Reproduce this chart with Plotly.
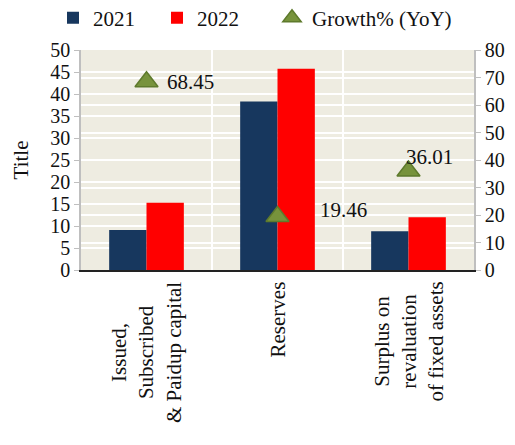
import plotly.graph_objects as go

categories = ["Issued,<br>Subscribed<br>& Paidup capital", "Reserves", "Surplus on<br>revaluation<br>of fixed assets"]
values_2021 = [9.08, 38.3, 8.8]
values_2022 = [15.3, 45.75, 11.97]
growth = [68.45, 19.46, 36.01]
growth_labels = ["68.45", "19.46", "36.01"]

FONT = "Liberation Serif"
FS = 21
fig = go.Figure()
fig.add_trace(go.Bar(name="2021", x=categories, y=values_2021, legend="legend",
                     marker=dict(color="#17375E", line=dict(width=0))))
fig.add_trace(go.Bar(name="2022", x=categories, y=values_2022, legend="legend2",
                     marker=dict(color="#FF0000", line=dict(width=0))))
fig.add_trace(go.Scatter(name="Growth% (YoY)", x=categories, y=growth, yaxis="y2", mode="markers",
                         legend="legend3",
                         marker=dict(symbol="triangle-up", size=20, color="#77933C",
                                     line=dict(color="#5E7A2C", width=1.5))))

shifts = [18, 40, -5]
yshifts = [0, 6, 14]
for c, g, t, xs, ys in zip(categories, growth, growth_labels, shifts, yshifts):
    fig.add_annotation(x=c, y=g, xref="x", yref="y2", text=t, showarrow=False,
                       xanchor="left", yanchor="middle", xshift=xs, yshift=ys,
                       font=dict(family=FONT, size=FS, color="#111111"))

# category labels: rotated, lines centred (as in the reference)
for c in categories:
    fig.add_annotation(x=c, y=0, xref="x", yref="paper", text=c, showarrow=False,
                       textangle=-90, align="center", xanchor="center", yanchor="top",
                       yshift=-10, font=dict(family=FONT, size=FS, color="#111111"))

def leg(xpx):
    return dict(orientation="h", x=(xpx - 81) / 393, xanchor="left", y=1.145, yanchor="middle",
                font=dict(family=FONT, size=FS, color="#111111"), bgcolor="rgba(0,0,0,0)",
                itemwidth=30)

fig.update_layout(
    width=515, height=445,
    margin=dict(l=81, r=41, t=50, b=175, autoexpand=False),
    paper_bgcolor="white", plot_bgcolor="#EEECE1",
    barmode="group", bargap=0.43, bargroupgap=0,
    font=dict(family=FONT, size=FS, color="#111111"),
    showlegend=True,
    legend=leg(53), legend2=leg(157), legend3=leg(272),
    xaxis=dict(type="category", showticklabels=False, tickson="boundaries", showgrid=True,
               gridcolor="white", gridwidth=2, showline=True, linecolor="#222222", linewidth=1.5,
               ticks=""),
    yaxis=dict(range=[0, 50], dtick=5, showgrid=True, gridcolor="white", gridwidth=2,
               showline=True, linecolor="#BFBFBF", linewidth=1.5, ticks="outside", ticklen=5,
               tickcolor="#BFBFBF", zeroline=False,
               title=dict(text="Title", font=dict(family=FONT, size=FS), standoff=16),
               tickfont=dict(family=FONT, size=20)),
    yaxis2=dict(range=[0, 80], dtick=10, overlaying="y", side="right", showgrid=True,
                gridcolor="white", gridwidth=2, showline=True, linecolor="#BFBFBF", linewidth=1.5,
                ticks="outside", ticklen=5, tickcolor="#BFBFBF", zeroline=False,
                tickfont=dict(family=FONT, size=20)),
)
fig.write_html("out.html")
